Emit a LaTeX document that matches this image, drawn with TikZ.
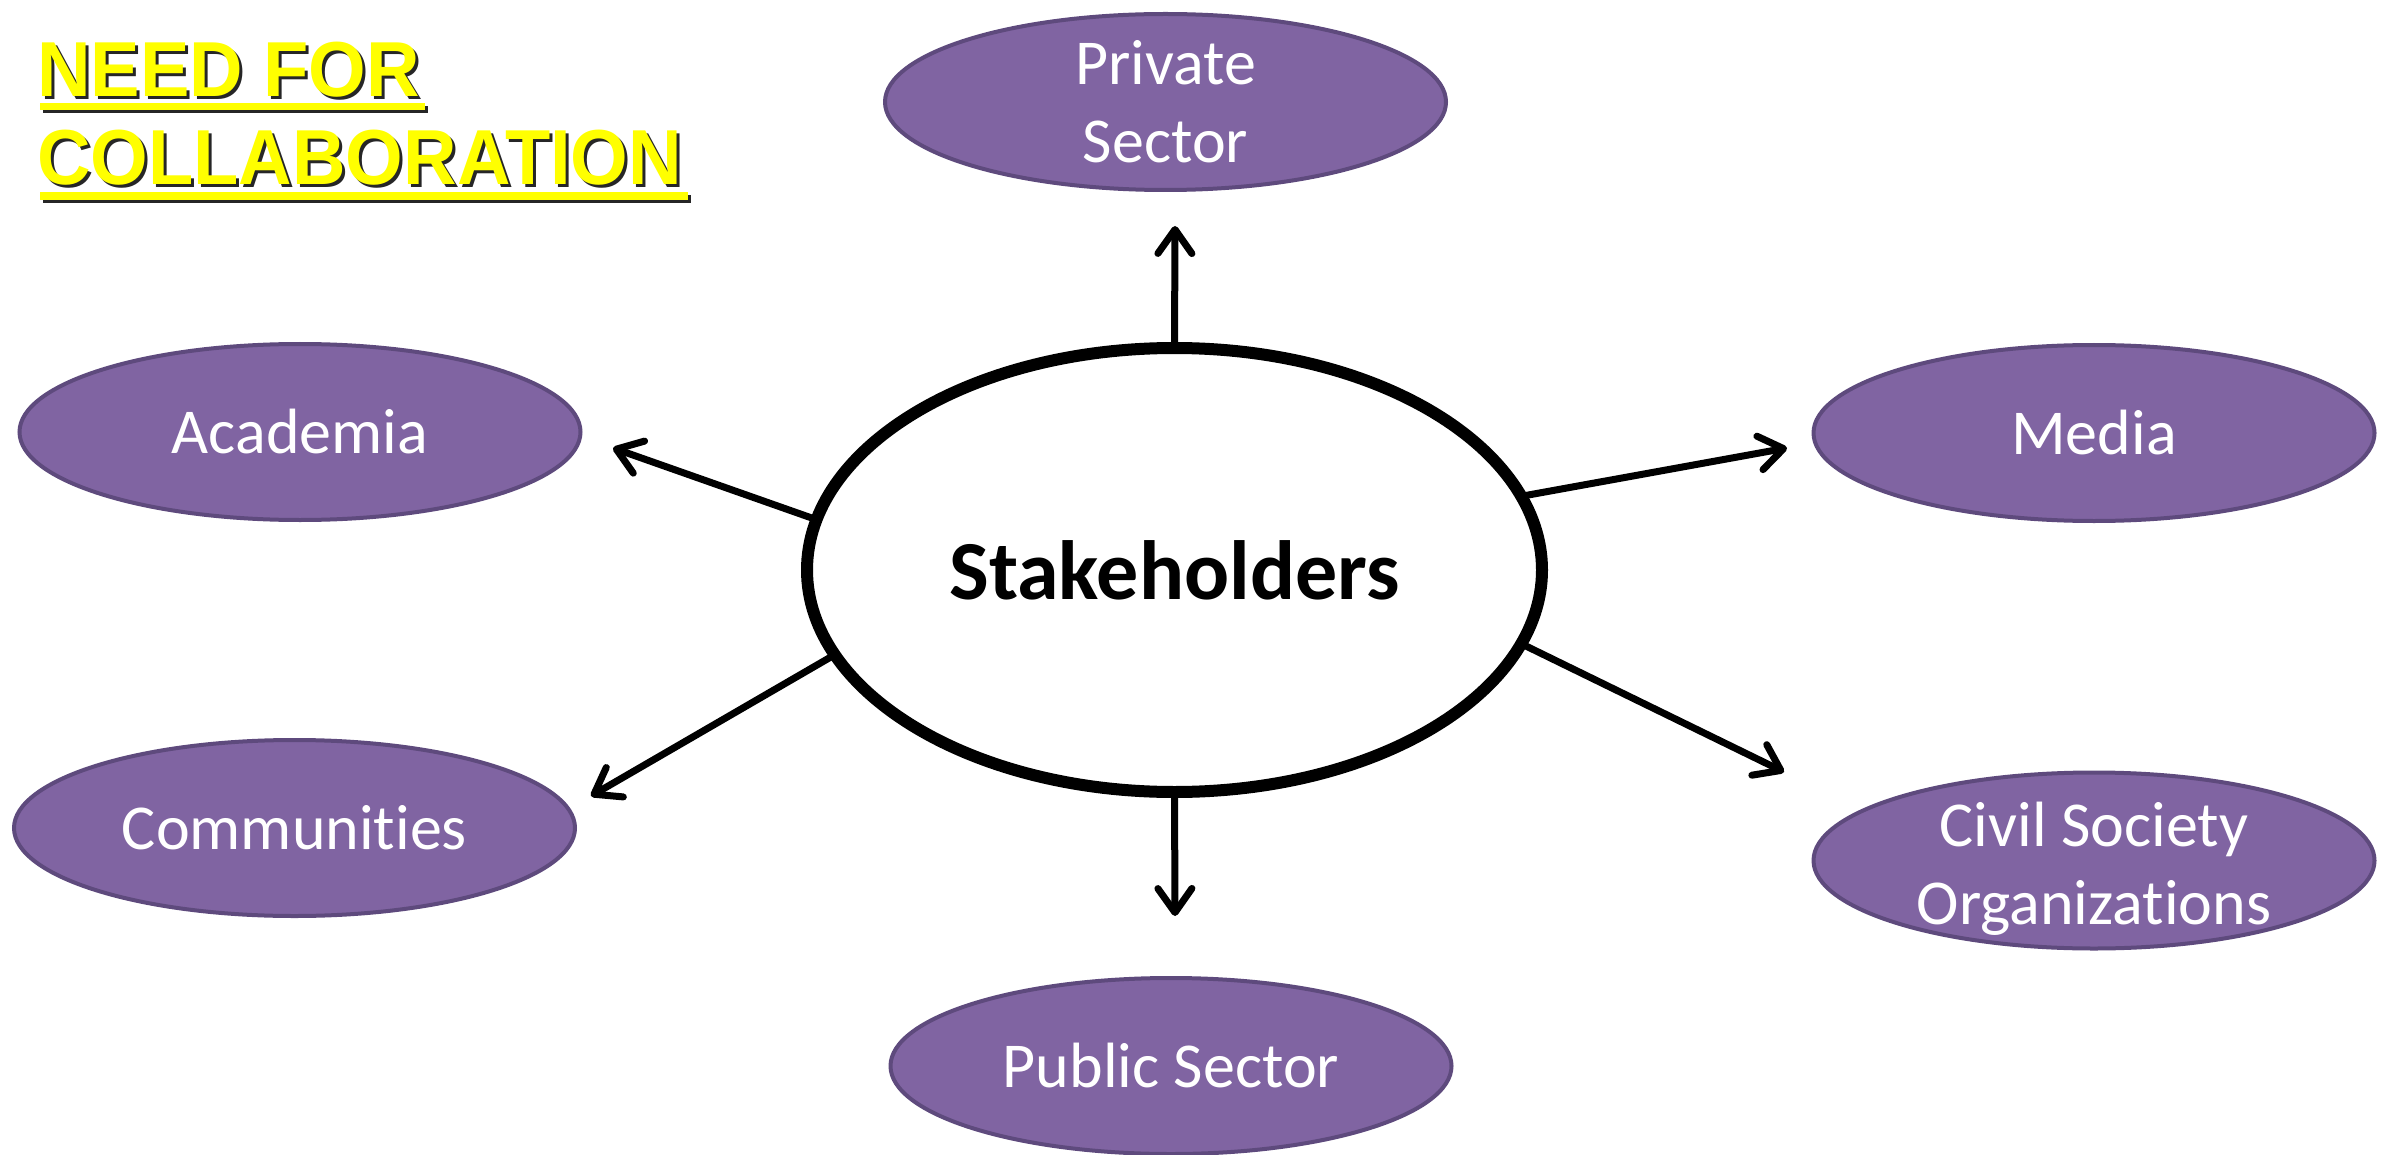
\documentclass[tikz,border=0pt]{standalone}
\usepackage{fontspec}
\setmainfont{Carlito}[Ligatures=NoCommon]
\newfontfamily\titlefont[FakeStretch=0.95]{Liberation Sans}
\usetikzlibrary{shapes.geometric,arrows.meta}
\definecolor{bubblefill}{HTML}{8064A2}
\definecolor{bubbleline}{HTML}{5E4A7D}
\definecolor{titleyellow}{HTML}{FFFF00}

\begin{document}
\begin{tikzpicture}[x=1pt,y=-1pt,
  bubble/.style={ellipse, draw=bubbleline, fill=bubblefill, line width=4pt,
    minimum width=561pt, minimum height=176pt, inner sep=0pt},
  bubbletext/.style={text=white, font=\fontsize{64}{78}\selectfont,
    align=center, inner sep=0pt},
  hub/.style={ellipse, draw=black, line width=12pt, fill=white,
    minimum width=735pt, minimum height=444pt, inner sep=0pt, outer sep=0pt,
    font=\bfseries\fontsize{84}{100}\selectfont},
  link/.style={line width=7pt,
    -{Straight Barb[length=24pt,width=34pt,line cap=round,line join=round]}},
  heading/.style={anchor=base west, inner sep=0pt,
    font=\titlefont\bfseries\fontsize{78}{90}\selectfont},
]
\useasboundingbox (0,0) rectangle (2392,1155);

% title with drop shadow and underline bars
\fill[black!85] (43,106) rectangle (428,113);
\fill[black!85] (43,195) rectangle (691,203);
\node[heading, text=black!85] (t1s) at (40,100) {NEED FOR};
\node[heading, text=black!85] (t2s) at (40,188) {COLLABORATION};
\fill[titleyellow] (40,103) rectangle (425,110);
\fill[titleyellow] (40,192) rectangle (688,200);
\node[heading, text=titleyellow] (t1) at (37,97) {NEED FOR};
\node[heading, text=titleyellow] (t2) at (37,185) {COLLABORATION};

% central hub
\node[hub] (hub) at (1174.5,570) {Stakeholders};

% stakeholder groups
\node[bubble, label={[bubbletext]center:Private\\Sector}] (priv) at (1165.5,102) {};
\node[bubble, label={[bubbletext]center:Academia}] (acad) at (300,432) {};
\node[bubble, label={[bubbletext]center:Media}] (media) at (2094,433) {};
\node[bubble, label={[bubbletext]center:Communities}] (comm) at (294.5,828) {};
\node[bubble, label={[bubbletext, yshift=-8pt]center:Civil Society\\Organizations}] (civil) at (2094,860.5) {};
\node[bubble, label={[bubbletext]center:Public Sector}] (pub) at (1171,1066) {};

% arrow tips
\coordinate (privtip) at (1175,226);
\coordinate (pubtip) at (1175,916);
\coordinate (acadtip) at (613,448);
\coordinate (mediatip) at (1787,448);
\coordinate (commtip) at (591,796);
\coordinate (civiltip) at (1784,772);

\draw[link] (hub.90) -- (privtip);
\draw[link] (hub.270) -- (pubtip);
\draw[link] (hub.172) -- (acadtip);
\draw[link] (hub.12.3) -- (mediatip);
\draw[link] (hub.194.2) -- (commtip);
\draw[link] (hub.-12.4) -- (civiltip);
\end{tikzpicture}
\end{document}
